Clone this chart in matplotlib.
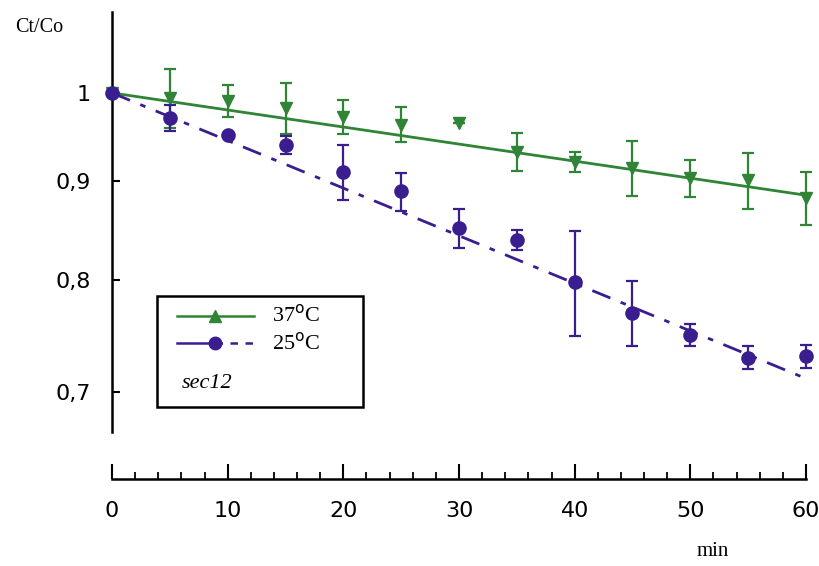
import matplotlib
matplotlib.use('Agg')
import matplotlib.pyplot as plt
from matplotlib.lines import Line2D
from matplotlib.patches import Rectangle
from matplotlib.ticker import FixedLocator, MultipleLocator, NullLocator, FixedFormatter

# data
minutes = [0, 5, 10, 15, 20, 25, 30, 35, 40, 45, 50, 55, 60]
ratio_37 = [1.0, 0.994, 0.991, 0.982, 0.972, 0.963, 0.965, 0.932, 0.921, 0.914, 0.903, 0.901, 0.882]
err_37 = [0.0, 0.035, 0.019, 0.030, 0.020, 0.020, 0.0, 0.021, 0.011, 0.030, 0.020, 0.030, 0.028]
ratio_25 = [1.0, 0.971, 0.951, 0.940, 0.910, 0.889, 0.851, 0.839, 0.798, 0.769, 0.749, 0.729, 0.730]
err_25 = [0.0, 0.015, 0.0, 0.010, 0.030, 0.020, 0.020, 0.010, 0.050, 0.030, 0.010, 0.010, 0.010]
trend_t = [0, 60]
trend_37 = [1.0, 0.885]
trend_25 = [1.0, 0.711]
ytick_vals = [0.7, 0.8, 0.9, 1.0]
ytick_labels = ['0,7', '0,8', '0,9', '1']

GREEN = '#2f8435'
BLUE = '#3a1d8e'
W, H = 819, 566

fig = plt.figure(figsize=(W / 100, H / 100), dpi=100)
fig.patch.set_facecolor('white')


def fx(x):
    return x / W


def fy(y):
    return 1 - y / H


ax = fig.add_axes([fx(112), fy(432), fx(806) - fx(112), fy(12) - fy(432)])
ax.set_yscale('log')
ax.set_xlim(0, 60)
ax.set_ylim(0.667, 1.1015)

ax.plot(trend_t, trend_37, color=GREEN, lw=2.0, zorder=2, clip_on=False)
ax.plot(trend_t, trend_25, color=BLUE, lw=2.0, dashes=(7, 4, 2, 4), zorder=2, clip_on=False)

ax.errorbar(minutes, ratio_37, yerr=err_37, fmt='v', color=GREEN, ms=9, capsize=4.5,
            elinewidth=1.6, capthick=1.6, zorder=3, clip_on=False)
ax.errorbar(minutes, ratio_25, yerr=err_25, fmt='o', color=BLUE, ms=9.5, capsize=4.5,
            elinewidth=1.6, capthick=1.6, zorder=4, clip_on=False)

for s in ['top', 'right']:
    ax.spines[s].set_visible(False)
ax.spines['left'].set_linewidth(1.8)
ax.spines['bottom'].set_linewidth(1.8)
ax.spines['bottom'].set_position(('outward', 34))

ax.yaxis.set_major_locator(FixedLocator(ytick_vals))
ax.yaxis.set_major_formatter(FixedFormatter(ytick_labels))
ax.yaxis.set_minor_locator(NullLocator())
ax.tick_params(axis='y', direction='in', length=6, width=1.5, pad=15,
               labelsize=16, labelfontfamily='DejaVu Sans')

ax.xaxis.set_major_locator(MultipleLocator(10))
ax.xaxis.set_minor_locator(MultipleLocator(2))
ax.tick_params(axis='x', which='major', direction='in', length=11, width=1.5, pad=16,
               labelsize=16, labelfontfamily='DejaVu Sans')
ax.tick_params(axis='x', which='minor', direction='in', length=5, width=1.3)

fig.text(fx(15), fy(27), 'Ct/Co', family='Liberation Serif', fontsize=14.5, va='center', ha='left')
fig.text(fx(713), fy(552), 'min', family='Liberation Serif', fontsize=15, va='center', ha='center')

# legend box
fig.add_artist(Rectangle((fx(157), fy(407)), fx(363) - fx(157), fy(296) - fy(407),
                         fill=False, edgecolor='black', lw=1.8, transform=fig.transFigure))
fig.add_artist(Line2D([fx(177), fx(254)], [fy(316), fy(316)], color=GREEN, lw=1.8,
                      transform=fig.transFigure))
fig.add_artist(Line2D([fx(215)], [fy(316)], marker='^', ms=9, color=GREEN, ls='none',
                      transform=fig.transFigure))
fig.add_artist(Line2D([fx(177), fx(215)], [fy(343), fy(343)], color=BLUE, lw=1.8,
                      transform=fig.transFigure))
fig.add_artist(Line2D([fx(215), fx(254)], [fy(343), fy(343)], color=BLUE, lw=1.8,
                      dashes=(3, 3), transform=fig.transFigure))
fig.add_artist(Line2D([fx(215)], [fy(343)], marker='o', ms=9, color=BLUE, ls='none',
                      transform=fig.transFigure))
fig.text(fx(272), fy(315), '37$^{\\rm o}$C', family='Liberation Serif', fontsize=16, va='center')
fig.text(fx(272), fy(343), '25$^{\\rm o}$C', family='Liberation Serif', fontsize=16, va='center')
fig.text(fx(182), fy(384), 'sec12', family='Liberation Serif', style='italic', fontsize=16, va='center')

fig.savefig('out.png', dpi=100, facecolor='white')
